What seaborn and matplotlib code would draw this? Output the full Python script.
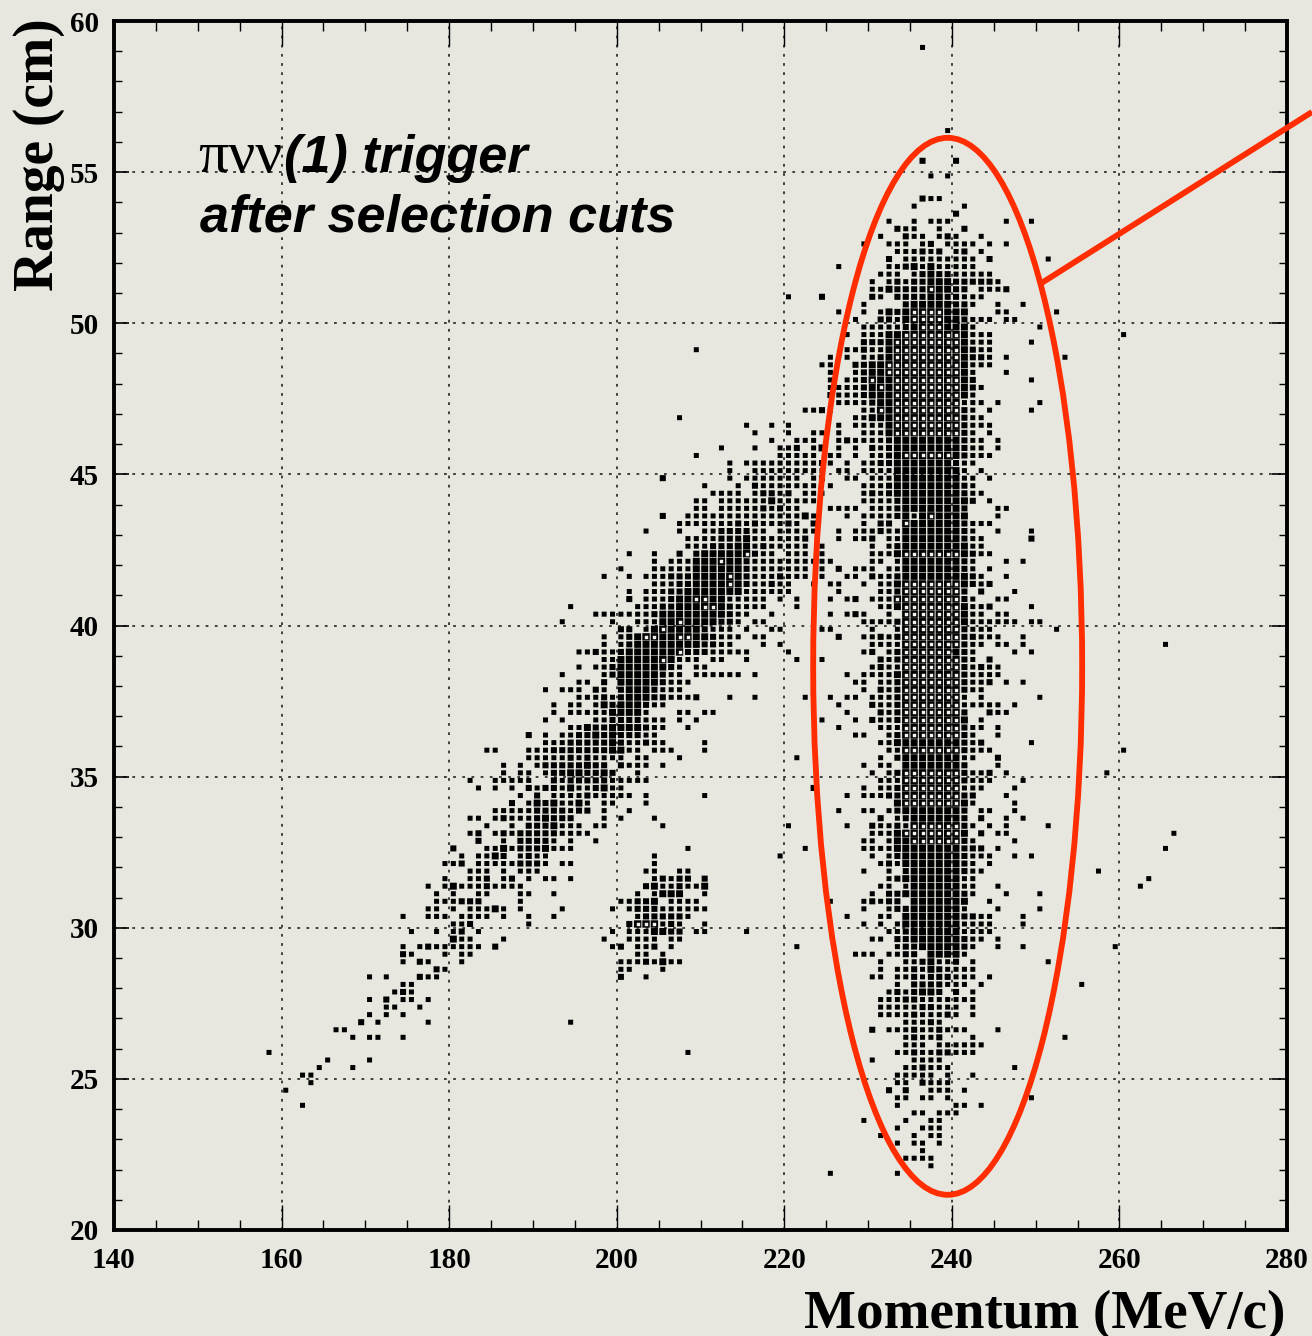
import pandas as pd
import matplotlib
matplotlib.use("Agg")
import matplotlib.pyplot as plt
import seaborn as sns
from matplotlib.lines import Line2D
from matplotlib.patches import Ellipse

# Histogram cells: {range bin: "momentum[-momentum][:box level] ..."}
# range bin 0 is the top row (0.25 cm per bin), momentum bins are 1 MeV/c wide
core_cells = {
    3: "236", 14: "239", 18: "236:2 240:2", 20: "237 239", 23: "236:2 237 238", 24: "235 241", 25: "240:2",
    26: "232 235 237 238 239 246 249", 27: "233:2 234 235 238 241:2",
    28: "231 234:2 235 236 238 239:2 240 243",
    29: "229 232 233 234 236 237:2 239 240 241 242 244 246",
    30: "233 234 235 236:2 237 238:2 240 241:2 243",
    31: "232:2 234 235 236 237 238 239 240 241 242 244:2 251",
    32: "226 232 233 234:2 235:3 236 237:3 238 239 240 241 242",
    33: "231 232 233 235 236:2 237:3 238:2 239:2 240 241 242 243 244",
    34: "230 232 233:2 234 235:2 236:2 237:3 238:3 239:3 240:2 241-244:2 245",
    35: "230 231 232:3 233:2 234:2 235:2 236:2 237:4 238:3 239:3 240:2 241:2 243 244 245 246:2",
    36: "224:2 230:2 231 233:2 234:2 235:2 236:2 237:3 238:3 239:2 240:2 241 242 243",
    37: "229 234:2 235-239:3 240:2 241:2 242 245 248",
    38: "226 229 231 232:3 233:2 234:3 235-238:4 239-241:3 245 246 252",
    39: "228 231:2 232:2 233 234:3 235-238:4 239:3 240:3 241:2 242 243 244 246 247",
    40: "229 230 231 232 233 234:2 235:3 236-238:4 239-241:3 242 250",
    41: "227 229 230 231 232:3 233:3 234-240:4 241:3 242 243 244",
    42: "229:2 230:2 231:2 232:3 233-240:4 241:3 242 243 244 249",
    43: "227 228 229:2 230 231 232:3 233-240:4 241:3 242:2 243 244",
    44: "225 227 229 230 231:2 232:3 233-240:4 241:3 242:2 243:2 244 246 253",
    45: "224 225 228:2 229:2 230:3 231:3 232-240:4 241:3 242 243 244",
    46: "225 228 229:2 230:3 231:3 232-240:4 241:3 242 246",
    47: "225 227 228 229:2 230:4 231:3 232:3 233-240:4 241:3 242:2 249",
    48: "225 226 227 228 229:2 230:3 231:4 232:3 233-240:4 241:3 242:2 243",
    49: "225:2 226 227 228 229:2 230-232:3 233-240:4 241:3 242",
    50: "226 227 228 229 230:2 231:3 232:3 233-240:4 241 242 243 245 250",
    51: "222 223 224:2 225 229 230 231:4 232:3 233-240:4 241:2 242 244 249",
    52: "228 229 230:3 231:3 232:3 233-240:4 241:2 242 243",
    53: "226 228 229 230 231 232:3 233-240:4 241:2 242 243 244",
    54: "223 224 226 229 230 231 232:3 233-240:4 241:2 242 244",
    55: "222 223 226 227:2 228 229 230 231 232:2 233-240:3 241:2 242 243 245",
    56: "223 224:3 226 228 230:2 231 232:2 233-240:3 241:2 242 243 245",
    57: "222 223 225 226 228 230 231 232:2 233:3 234-239:4 240:3 241:2 242 243 244",
    58: "222 223 224:2 225 227 229 230 231:2 232:2 233-239:3 240:2 241 242",
    59: "222 223 224 226 227 229 230 231 232 233-240:3 241 243",
    60: "223 224:2 227 228 230 231 232 233:3 234-240:3 241 242 244",
    61: "222 223 225 229 230 231 232:2 233-240:3 241:2 242",
    62: "222 223 224 229 230:2 231 232:2 233:3 234-240:3 241:2 242 243",
    63: "222 223 229 230 231 232 233:2 234-241:3 242:2 244",
    64: "225 226 227 228 230 231 232 233:2 234-240:3 241:2 245 246",
    65: "222:3 223 227 229 230 231 232 233:2 234:3 235 236:3 237:4 238-241:3 245",
    66: "223:2 229 231:2 232:2 234:4 235-240:3 241:2 242 243 244",
    67: "222 223 226 228 229 230 231:2 232 233 234-240:3 241:2 242 245 249",
    68: "222:2 226 228 229 230:2 232 233 234-240:3 241:2 242 243 249:2",
    69: "222 224 230 232 233:2 234-241:3 242 243",
    70: "222 224 230 231 232 233:3 234-240:4 241:3 242:2 243 244",
    71: "222 223 224 225 230 231 233 234-240:3 241:2 242 246 248",
    72: "222 224 226:2 228 229 230 232 233 234-240:3 241:2 242 244",
    73: "222 224 227 228 230:2 231 232 233:2 234-241:3 242:2 243 246",
    74: "223 225 226 229 231 232 233:3 234-240:4 241:3 242:2 243 244:2",
    75: "226 231 232 233:2 234-240:4 241:2 243:2 247",
    76: "225 227 228:2 230 231 232 233:4 234-240:4 241:2 242 245 246",
    77: "231 232 233:3 234-240:4 241:3 242 243 244:2 249",
    78: "225 227 228:2 229 232 234-240:4 241:3 242 243 245 246",
    79: "229 230 231 232 233:2 234-240:4 241:3 242 243 244 245 246 247 249 250",
    80: "224 225 230 233 234-240:4 241:2 242 243 244 252",
    81: "226:2 229 230 231:2 232 233:2 234-240:4 241:2 242:2 243 244 245 248",
    82: "230 231 232 233 234-240:4 241:2 242 243 245 246 248",
    83: "229 230:2 232 233:2 234-239:4 240:3 241:2 242 247 249",
    84: "224 231:2 232 233:2 234-240:4 241:2 242 244:2",
    85: "230 231:2 232 233 234-240:4 241:2 242 243:2 244 245",
    86: "227 229 230 231 232 233:3 234-240:4 241:2 242 243 244 245",
    87: "228 229 231 232 233:2 234-240:4 241:2 242 243 244:2 246 248",
    88: "229 231:2 232 233:2 234-240:4 241:2 242 243",
    89: "222 225 227 228 230 231 232 233:2 234-240:4 241 243 250",
    90: "226 230:2 231 232 233:2 234-240:4 241 242 243 244 245 247",
    91: "227 231:2 232 233:2 234-240:4 241:2 244:2 245 246",
    92: "224 228 230:2 231 232 233:2 234-240:4 241:3 243",
    93: "226 231 232 233 234-240:4 241:2 242 243 245",
    94: "228 229 232 233:2 234-240:4 241:2 242 245",
    95: "231 232 233:3 234-240:3 241:2 242 243:2 249",
    96: "232 233 234-240:4 241:2 242 243 244",
    97: "231 233:2 234-240:3 241 242 245:2",
    98: "229 231 232 234-240:3 241:2 245",
    99: "230 232 233:2 234-240:4 241:2 242 243 244:2 246",
    100: "231 232 233 234-240:4 241:2 242 243 244 248",
    101: "223:2 229 231 232 233:2 234-240:4 241 242 243 247",
    102: "227 229 230 231 232:2 233:2 234-240:4 241:2 242:2 246",
    103: "233:3 234-240:4 241:3 242 247",
    104: "226 229 230 232 233:2 234:3 235-240:3 241:2 243 244 247",
    105: "231:2 233 234:2 235-240:3 241:2 243:2 246 248",
    106: "227 230:2 231 232 233:2 234 235-240:4 241:2 242 244 246 251",
    107: "230 231 232 233:3 234-240:4 241:3 243:2 245 246",
    108: "229 230 232 233:3 234:3 235-240:4 241:2 242 247",
    109: "222 229 230 231 232 233:3 234-240:3 241:2 242:2 243:2 245",
    110: "230 232 233:2 234:3 235-240:3 241:2 242 243 244 247 249",
    111: "231 232:2 233 234:3 235-240:3 241:2 242 244",
    112: "229 232 234:2 235-240:3 241:2 242 243",
    113: "232 233:2 234-240:3 241 242",
    114: "231 232 234 235-240:3 241 242 245",
    115: "230 232:2 233:2 234:3 235-240:3 241:2 242 246 250",
    116: "229 230:2 231 232:2 233:2 235:3 236:3 237-240:3 241:3 244",
    117: "229 232 233:2 234:2 235-240:3 241 245 250",
    118: "227 231 232 234:3 235-240:3 241:2 242:2 243 244 248",
    119: "229 231 233 234-240:3 241 242 243 244 248",
    120: "232 233 234:2 235-240:3 241 242 243 244",
    121: "230 231 233:2 234:2 235-240:3 241:2 242 243 245",
    122: "233 234:2 235:2 236-240:3 241:2 242 245 248",
    123: "228 229 230 232 233 234:2 235:2 237:3 238-240:3 241",
    124: "231 234 235 236:2 237:3 238 239 240:2 242 251",
    125: "231 233 234 235:2 236 237:3 238:2 239 240 241 242",
    126: "230 231 233 234 235:2 236 237:2 238:2 239:2 240 241 242 244",
    127: "233 235:2 236:2 237:2 238:2 239 240 241 243 255",
    128: "232 233:2 234 235:2 236:3 237:3 238:2 240:2 242",
    129: "231 232 233 234:2 235:2 236 237 238 239 240 241 242",
    130: "231 232 233 234 235 236:2 237:2 238 239 240 242",
    131: "231 232 233 234 235:2 236 237 238 239:2 240 242",
    132: "234 235 236 237:2 238",
    133: "230:2 232 233 234 235:2 236 237 238:2 239 240 241 245",
    134: "234 235:2 236 237 238:2 242 253",
    135: "234 235 236 238 239 240 241 242 243",
    136: "233 234 235:2 236 237 238:2 239:2 240 241 242",
    137: "230 235 236 237 238",
    138: "234 235 236:2 237 238 239 247",
    139: "233 234 235 236 237 239 242",
    140: "233 234 236:2 237 238 239",
    141: "232:2 234:2 237 238 239 241",
    142: "233 234 236 237 239 249",
    143: "233 240 241 243",
    144: "235 236 238 239 240",
    145: "229 234 237 238",
    146: "233 236 237 238",
    147: "231 235 237 238",
    148: "233 235 236 238",
    149: "236",
    150: "234 235 236 237",
    151: "237",
    152: "225 233",
}

band_cells = {
    53: "215 218 220", 54: "216 220", 55: "218 221", 56: "212 216 219 220 221:2",
    57: "209 219 220 221", 58: "213 215 216 217 218 219 220 221",
    59: "213 216 217 218 219 220 221",
    60: "205:2 213 215 216 217 218 219 220 221",
    61: "210 214 216:2 217 218 219 220 221",
    62: "211 212 213 214 216 217:2 218:2 219 220:2",
    63: "209 210 212 213 214 215 216 217 218:3 219 220 221",
    64: "209 210 212 213 214 215 216 217:2 218 219:2 220 221",
    65: "205:2 208 209 210 211 212 213 214 215 216 217 218 219 220 221",
    66: "207 208 209 210 211 212 213 214:2 215 216:2 217 218 219 220:2 221",
    67: "203 207 210 211 212:2 213:2 214:2 215:2 216 217 219 220 221",
    68: "208 209 210 211 212:2 213:2 214:2 215:3 216 217 218 219 220 221",
    69: "208 209 210 211:2 212:2 213:2 214:3 215:3 216 217:2 218 219 220 221",
    70: "201 204 207:2 209:2 210:3 211:3 212:3 213:3 214:3 215:4 216:2 217 218 220 221",
    71: "204 206 207 208 209:3 210:3 211:3 212:4 213:3 214:3 215:2 216 217 218 219 220 221",
    72: "200 204 205 206 207 208 209:3 210:3 211:3 212:3 213:3 214:3 215:2 216 217 218 219 220 221",
    73: "198 201 203 204 205 206:2 207:2 208:2 209:3 210:3 211:3 212:3 213:4 214:3 215:2 216 217 218 219:2 220 221",
    74: "204 205 206 207:2 208:2 209:3 210:3 211:3 212:3 213:4 214:3 215:2 216 217 218:2 219 220",
    75: "201 203 204 205 206:2 207:2 208:3 209:3 210:3 211:3 212:3 213:3 214:3 215 216 217 218 219 220",
    76: "201:2 203 204 205 206:2 207:3 208:3 209:4 210:4 211:3 212:3 213 214 215 216 217 219 221",
    77: "194 202 203 204 205:2 206:2 207:3 208:3 209:3 210:4 211:4 212:3 213:2 214 215 216 217 221",
    78: "197 198 199 200 201 202 203 204:2 205:3 206:3 207:3 208:3 209:3 210:3 211:3 212:3 213:2 214 215 218",
    79: "193 199 202 203 204 205:3 206:3 207:4 208:3 209:3 210:3 211:3 212:2 213:2 214 216 217",
    80: "200:2 201:2 203 204:3 205:4 206:3 207:3 208:3 209:3 210:2 211 212 213 215 218 219",
    81: "198 200 201:2 202:3 203:4 204:4 205:3 206:3 207:4 208:4 209:3 210:3 211:2 212 213 214 216 217",
    82: "198 200 201:2 202:3 203:3 204:3 205:3 206:3 207:3 208:3 209:3 210:2 211:2 212 213 217 219",
    83: "195 196 197:2 198 199 200:2 201:3 202:3 203:3 204:3 205:3 206:3 207:4 208:2 209:2 210:2 211 212 213 214 215 220",
    84: "198 199 200:3 201:3 202:3 203:3 204:3 205:4 206:3 207 208 209 211 212 215 221",
    85: "195 197 198 199:2 200:3 201:3 202:3 203:3 204:3 205:3 206:2 207 209 210",
    86: "193 198 199:2 200:3 201:3 202:3 203:3 204:3 205:2 206 207 209 210 211 212 213 214 216",
    87: "195 196 198:2 200:3 201:3 202:3 203:3 204:3 205:2 206 207 208",
    88: "191 193 194 195 197:2 198 200:2 201:3 202:3 203:3 204:2 205 206 207",
    89: "195 196 197 198:2 199 200:2 201:3 202:3 203:3 204:2 205:2 206 207 208 209:2 213 216 222",
    90: "192 194 195 197 198:3 199:2 200:3 201:3 202:3 203:2 204 205",
    91: "192 194 195 196 197 198 199:3 200:3 201:3 202:3 203 207 208 210 211",
    92: "191 193 197 198 199:2 200:2 201:2 202:2 203 204 205 207 209",
    93: "194 195 196:3 197:2 198:2 199:3 200:3 201:3 202:3 203:2 204 205 208",
    94: "189:2 191 193 194 195:2 196:2 197:3 198:2 199:3 200:2 201:2 202:2 203 204",
    95: "191 192 193 194:2 195:2 196:2 197:2 198:2 199:3 200:2 201 202 203:2 204 205 210",
    96: "184 185 189 190 191 192:2 193:2 194:2 195:2 196:2 197:2 198:2 199:3 200:3 201 202 204 205 206 210",
    97: "189 190 191 192 193 194:2 195 196:2 197 198 199 200 202 203 207",
    98: "186 188 190 191:2 192:2 193:2 194:2 195:2 196:3 197:2 198:2 200:2 201 202 203 205",
    99: "186 188 189 191 192:2 193:2 194:3 195:3 196:2 197:2 198:3 199:2 202",
    100: "182 185 186 187 188 189 192:2 193 194:2 195:2 196:2 197:2 198:2 199 200 201 202 203",
    101: "183 185 187 189:2 190 191:2 192:2 193 194:3 195 196 197:2 198:3 199 200",
    102: "188 190:2 192 193 194 195 196:2 197 198 199 200 201 203 210",
    103: "187:2 189 190:3 191:2 192:3 193 194 195:3 196 198 199 203",
    104: "185 186 187 188 189 190:2 191:2 192:2 193:2 194 195:2 196:2 198 201",
    105: "182 183 185 186:2 187 188 189 190:2 191:3 192:2 193:2 194:2 198 200 204",
    106: "184 187 189:2 190:2 191:2 192:3 193 194 195 197 198 205",
    107: "182 183:2 185 186:2 187 188:2 189:2 190:2 191:2 192:2 193 194 195 196",
    108: "183:2 186 188:2 189:2 190:2 191:2 192 194 197",
    109: "180:2 184 185 186:3 187 188:2 189:2 190:2 191:3 192 193 194 208",
    110: "181 183 184 185:3 186:2 188 189:2 190 191 204",
    111: "179 180 181:2 183 184 185 186 187 188:2 189:2 190:2 191 193 194 204",
    112: "182 183 184 186 188 189 190 203 204 207 208",
    113: "179 182 183 184:2 186 187:2 189 191 192 194 204 205:2 206 207:2 208:2 210:2",
    114: "177 179 180:3 181 182 183 184:2 185 186 187 188 203:2 204:3 205 206 207:2 208 209 210:3",
    115: "178 180 183 184 188 189 192 202 204 205:3 206:3 207:3 210",
    116: "178 179 180 181:2 182:2 183:2 188 200 201 202:2 203:2 204:3 206 207 208 209",
    117: "177 178 180 182 183 184 185:3 186 188 193 199 201 202:2 203:2 204:2 205 206 207 208 209 210",
    118: "174 177 178 179 181 182 183 184 186 189 192 202 203:2 204:2 205:2 206:2 207:2 208",
    119: "180 181 182:2 189 201:2 202:4 203:4 204:4 205 206:2 207 210",
    120: "175 178 180 181:2 183 199 201 202 203 204:3 205:3 206:2 207:2 209 210",
    121: "180:3 181 182 186 198 201 202 203 204 206 207",
    122: "174 176 177:2 178 179 180 181 182 183 185:2 199 200:2 202 203 204:2 206",
    123: "174:2 175 179 181 182 202 203 205",
    124: "174 176:2 177 181 200 201 202 203:2 204 205:3 206 207",
    125: "178:2 179 200 201 205",
    126: "170 172 176:2 177 178 200:2 203",
    127: "174 175", 128: "173 174:2 175", 129: "170 172:2 174 175 177", 130: "172 173 176",
    131: "170 172 174", 132: "169:2 171 177", 133: "166 167", 134: "168 170 171 174",
    136: "158", 137: "165 170", 138: "164 168", 139: "162 163", 140: "163", 141: "160", 143: "162",
}

stray_cells = {
    41: "260", 43: "209", 52: "207", 36: "220", 82: "265", 96: "260", 97: "221", 99: "258",
    107: "266", 109: "265", 112: "257", 113: "263", 114: "262", 120: "215", 122: "221 259",
    116: "225", 132: "194", 136: "208", 106: "220", 110: "219",
}

x_limits = [140, 280]
y_limits = [20, 60]
x_ticks = [140, 160, 180, 200, 220, 240, 260, 280]
y_ticks = [20, 25, 30, 35, 40, 45, 50, 55, 60]

# ellipse around the K -> mu nu peak: centre and full axes in data units
ring_center = (239.5, 38.65)
ring_width = 32.1
ring_height = 34.97

PAPER = "#e7e7e0"
RED = "#ff2d00"


def expand_cells(rows):
    cells = []
    for row, text in rows.items():
        for token in text.split():
            span, _, level = token.partition(":")
            first, _, last = span.partition("-")
            for mom in range(int(first), int(last or first) + 1):
                cells.append((mom + 0.5, 60 - 0.25 * (row + 0.5), int(level or 1)))
    return cells


def make_plot():
    sns.set_style("ticks")
    plt.rcParams["font.family"] = ["Liberation Serif", "DejaVu Serif"]
    plt.rcParams["text.color"] = "black"
    plt.rcParams["axes.edgecolor"] = "black"
    plt.rcParams["xtick.color"] = "black"
    plt.rcParams["ytick.color"] = "black"

    cells = expand_cells(core_cells) + expand_cells(band_cells) + expand_cells(stray_cells)
    df = pd.DataFrame(cells, columns=["momentum", "range_cm", "level"])
    df = df.groupby(["momentum", "range_cm"], as_index=False)["level"].max()

    fig = plt.figure(figsize=(13.12, 13.36), dpi=100, facecolor=PAPER)
    ax = fig.add_axes([114 / 1312, 1 - 1230 / 1336, (1287 - 114) / 1312, (1230 - 21) / 1336], facecolor=PAPER)

    ax.grid(True, which="major", color="#111111", linestyle=(0, (1.8, 4.2)), linewidth=1.1)
    ax.set_axisbelow(True)

    # snap off so the boxes stay soft and evenly sized like the scanned original
    sns.scatterplot(data=df, x="momentum", y="range_cm", size="level",
                    sizes={1: 13, 2: 19, 3: 25, 4: 28}, marker="s", color="black",
                    linewidth=0, legend=False, ax=ax, zorder=3, snap=False)
    sns.scatterplot(data=df[df["level"] == 4], x="momentum", y="range_cm", s=6, marker="s",
                    color="#f2f2ee", linewidth=0, legend=False, ax=ax, zorder=4, snap=False)

    ax.add_patch(Ellipse(ring_center, ring_width, ring_height, fill=False, edgecolor=RED, linewidth=4.2, zorder=5))
    fig.add_artist(Line2D([1040 / 1312, 1312 / 1312], [1 - 284 / 1336, 1 - 112 / 1336], color=RED,
                          linewidth=4.2, solid_capstyle="butt", zorder=6))

    ax.set_xlim(x_limits)
    ax.set_ylim(y_limits)
    ax.set_xticks(x_ticks)
    ax.set_yticks(y_ticks)
    ax.set_xticks(range(140, 281, 5), minor=True)
    ax.set_yticks(range(20, 61), minor=True)
    ax.tick_params(axis="x", which="major", direction="in", top=True, length=18, width=1, pad=12, labelsize=21)
    ax.tick_params(axis="x", which="minor", direction="in", top=True, length=7, width=1)
    ax.tick_params(axis="y", which="major", direction="in", right=True, length=11, width=1.2, pad=11, labelsize=21)
    ax.tick_params(axis="y", which="minor", direction="in", right=True, length=6, width=1)
    for label in ax.get_xticklabels() + ax.get_yticklabels():
        label.set_fontweight("bold")
    for spine in ax.spines.values():
        spine.set_linewidth(2.8)
        spine.set_visible(True)

    ax.set_xlabel("")
    ax.set_ylabel("")
    fig.text(1285 / 1312, 1 - 1328 / 1336, "Momentum (MeV/c)", ha="right", va="baseline",
             fontsize=39.6, fontweight="bold")
    fig.text(53 / 1312, 1 - 155 / 1336, "Range (cm)", rotation=90, ha="center", va="baseline",
             fontsize=40, fontweight="bold", rotation_mode="anchor")

    fig.text(198 / 1312, 1 - 172 / 1336, "\u03c0\u03bd\u03bd", fontsize=43)
    fig.text(284 / 1312, 1 - 172 / 1336, "(1) trigger", fontsize=37.6, family="Liberation Sans",
             fontweight="bold", fontstyle="italic")
    fig.text(200 / 1312, 1 - 232 / 1336, "after selection cuts", fontsize=37.5, family="Liberation Sans",
             fontweight="bold", fontstyle="italic")

    fig.savefig("out.png", dpi=100, facecolor=PAPER)
    plt.close(fig)


if __name__ == "__main__":
    make_plot()
